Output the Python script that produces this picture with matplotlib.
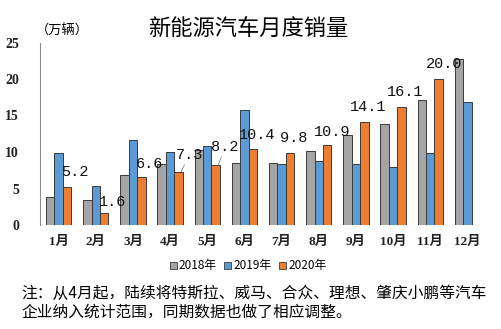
import matplotlib.pyplot as plt
import numpy as np
from matplotlib.patches import Patch

plt.rcParams['font.family'] = ['Noto Sans CJK SC', 'DejaVu Sans']

# monthly NEV sales, 10k units
months = ['1月', '2月', '3月', '4月', '5月', '6月', '7月', '8月', '9月', '10月', '11月', '12月']
sales_2018 = [3.8, 3.4, 6.8, 8.4, 10.3, 8.5, 8.5, 10.2, 12.3, 13.9, 17.1, 22.7]
sales_2019 = [9.8, 5.3, 11.6, 10.0, 10.8, 15.7, 8.3, 8.8, 8.3, 7.9, 9.8, 16.8]
sales_2020 = [5.2, 1.6, 6.6, 7.3, 8.2, 10.4, 9.8, 10.9, 14.1, 16.1, 20.0]
years = ['2018年', '2019年', '2020年']
colors = ['#A5A5A5', '#5B9BD5', '#ED7D31']

# label offsets (points) from the top of each orange bar
label_offsets = [(4, 11), (4, 8), (4, 9), (6, 12), (5, 13), (1, 10), (1, 11), (2, 10), (1, 11), (1, 11), (2, 11)]

fig = plt.figure(figsize=(5.02, 3.29), dpi=100)
ax = fig.add_axes([40 / 502, 104 / 329, 446 / 502, 182.5 / 329])

x = np.arange(len(months))
w = 0.226
series = [sales_2018, sales_2019, sales_2020]
for k, vals in enumerate(series):
    xs = x[:len(vals)] + (k - 1) * w
    ax.bar(xs, vals, width=w, color=colors[k], edgecolor='#3a3a3a', linewidth=0.7)

for i, v in enumerate(sales_2020):
    dx, dy = label_offsets[i]
    arrow = None
    if i in (3, 4):
        arrow = dict(arrowstyle='-', color='#7f7f7f', lw=0.6, shrinkA=0, shrinkB=0)
    ax.annotate(f'{v:.1f}', xy=(x[i] + w + w * 0.3, v), xytext=(dx, dy),
                textcoords='offset points', ha='center', va='center',
                family='Liberation Mono', fontsize=11, color='#111111',
                arrowprops=arrow)

ax.set_xlim(-0.5, 11.5)
ax.set_ylim(0, 25)
ax.set_yticks([0, 5, 10, 15, 20, 25])
ax.set_yticklabels(['0', '5', '10', '15', '20', '25'], family='Liberation Serif',
                   fontsize=10, fontweight='bold', color='#222222')
ax.set_xticks(x)
ax.set_xticklabels(months, family=['Liberation Serif', 'Noto Sans CJK SC'], fontsize=9.5,
                   fontweight='bold', color='#222222')
ax.tick_params(axis='y', length=0, pad=15)
ax.tick_params(axis='x', length=0, pad=8)
for s in ['top', 'right', 'bottom']:
    ax.spines[s].set_visible(False)
ax.spines['left'].set_color('#8c8c8c')
ax.spines['left'].set_linewidth(0.8)

fig.text(248 / 502, 1 - 29 / 329, '新能源汽车月度销量', ha='center', va='center', fontsize=16)
fig.text(36 / 502, 1 - 31 / 329, '（万辆）', ha='left', va='center', fontsize=9.5)

handles = [Patch(facecolor=c, edgecolor='#3a3a3a', linewidth=0.6) for c in colors]
fig.legend(handles, years, loc='center', bbox_to_anchor=(248 / 502, 1 - 266 / 329), ncol=3,
           frameon=False, fontsize=8.5, handlelength=0.6, handleheight=0.6,
           handletextpad=0.2, columnspacing=0.6)

fig.text(21 / 502, 1 - 293 / 329, '注：从4月起，陆续将特斯拉、威马、合众、理想、肇庆小鹏等汽车',
         ha='left', va='center', fontsize=11.3)
fig.text(21 / 502, 1 - 312 / 329, '企业纳入统计范围，同期数据也做了相应调整。',
         ha='left', va='center', fontsize=11.3)

fig.savefig('out.png', dpi=100)
